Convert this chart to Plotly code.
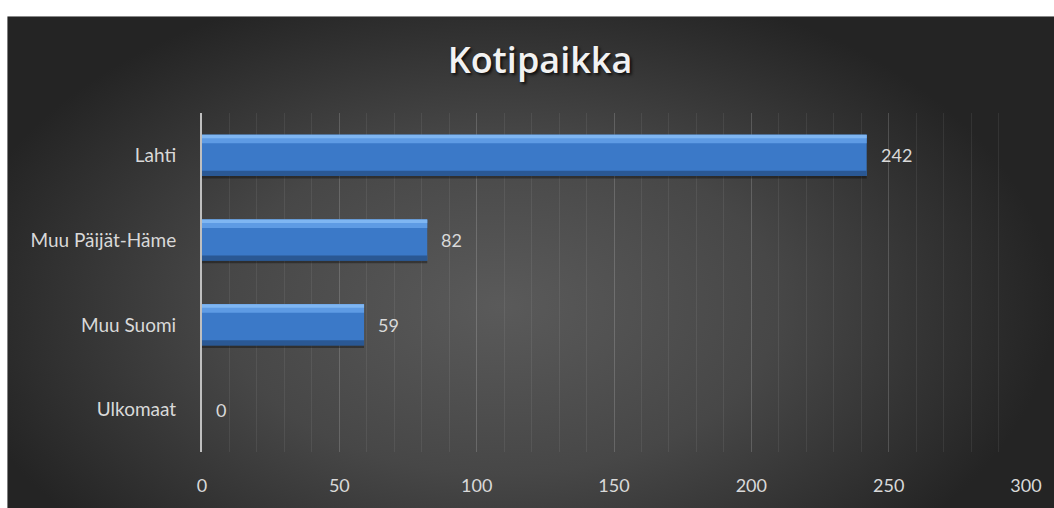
import urllib.parse
import plotly.graph_objects as go

# Data
categories = ["Lahti", "Muu Päijät-Häme", "Muu Suomi", "Ulkomaat"]
values = [242, 82, 59, 0]
value_labels = ["242", "82", "59", "0"]
title_text = "Kotipaikka"

FONT = "Lato, 'Open Sans', sans-serif"
TEXT_COL = "#d9d9d9"

# Plot-area geometry (pixels)
W, H = 1054, 508
L, R, T, B = 202, 27, 113, 48
pw, ph = W - L - R, H - T - B


def px_to_paper_x(px):
    return (px - L) / pw


def px_to_paper_y(py):
    return (H - B - py) / ph


# Radial gradient backdrop for the dark panel
svg = (
    "<svg xmlns='http://www.w3.org/2000/svg' width='1100' height='520' "
    "viewBox='0 0 1100 520' preserveAspectRatio='none'>"
    "<defs><radialGradient id='g' gradientUnits='userSpaceOnUse' cx='500' cy='300' r='560' "
    "gradientTransform='translate(500 300) scale(1 0.62) translate(-500 -300)'>"
    "<stop offset='0' stop-color='#5a5a5a'/>"
    "<stop offset='0.5' stop-color='#474747'/>"
    "<stop offset='1' stop-color='#242424'/>"
    "</radialGradient></defs>"
    "<rect width='1100' height='520' fill='url(#g)'/></svg>"
)
bg_src = "data:image/svg+xml;charset=utf-8," + urllib.parse.quote(svg)

BAR_W = 0.484

fig = go.Figure()

# Main bar body
fig.add_trace(go.Bar(
    y=categories, x=values, orientation="h",
    width=BAR_W, offset=-BAR_W / 2,
    marker=dict(color="#3b79c8", line=dict(width=0)),
    hoverinfo="skip", showlegend=False,
))
# Upper bevel highlight
fig.add_trace(go.Bar(
    y=categories, x=values, orientation="h",
    width=0.10, offset=-BAR_W / 2,
    marker=dict(color="#5e9be4", line=dict(width=0)),
    hoverinfo="skip", showlegend=False,
))
fig.add_trace(go.Bar(
    y=categories, x=values, orientation="h",
    width=0.04, offset=-BAR_W / 2,
    marker=dict(color="#7fb6f2", line=dict(width=0)),
    hoverinfo="skip", showlegend=False,
))
# Lower bevel shade
fig.add_trace(go.Bar(
    y=categories, x=values, orientation="h",
    width=0.06, offset=BAR_W / 2 - 0.06,
    marker=dict(color="#2a5894", line=dict(width=0)),
    hoverinfo="skip", showlegend=False,
))
# Soft drop shadow under each bar
fig.add_trace(go.Bar(
    y=categories, x=values, orientation="h",
    width=0.03, offset=BAR_W / 2,
    marker=dict(color="rgba(0,0,0,0.35)", line=dict(width=0)),
    hoverinfo="skip", showlegend=False,
))

# Value labels just past the bar ends
annotations = [
    dict(x=v, y=c, xref="x", yref="y", text=t, showarrow=False,
         xanchor="left", yanchor="middle", xshift=12,
         font=dict(family=FONT, size=18, color=TEXT_COL))
    for c, v, t in zip(categories, values, value_labels)
]

fig.update_layout(
    width=W, height=H,
    margin=dict(l=L, r=R, t=T, b=B, pad=0),
    paper_bgcolor="white",
    plot_bgcolor="rgba(0,0,0,0)",
    barmode="overlay",
    showlegend=False,
    annotations=annotations,
    title=dict(
        text=title_text,
        x=540 / W, xref="container", xanchor="center",
        y=(H - 60) / H, yref="container", yanchor="middle",
        font=dict(family="'Open Sans', sans-serif", size=36, weight=600, color="#f2f2f2",
                  shadow="2px 2px 3px rgba(0,0,0,0.75)"),
    ),
    images=[dict(
        source=bg_src, xref="paper", yref="paper",
        x=px_to_paper_x(7), y=px_to_paper_y(14),
        sizex=px_to_paper_x(W + 40) - px_to_paper_x(7),
        sizey=px_to_paper_y(14) - px_to_paper_y(H + 20),
        xanchor="left", yanchor="top", sizing="stretch", layer="below",
    )],
    xaxis=dict(
        range=[0, 300], tick0=0, dtick=50,
        showgrid=True, gridcolor="rgba(255,255,255,0.17)", gridwidth=1,
        minor=dict(dtick=10, showgrid=True, gridcolor="rgba(255,255,255,0.07)", gridwidth=1),
        zeroline=False, showline=False, ticks="",
        tickfont=dict(family=FONT, size=18, color=TEXT_COL),
        ticklabelstandoff=21,
        fixedrange=True,
    ),
    yaxis=dict(
        categoryorder="array", categoryarray=categories,
        autorange="reversed",
        showgrid=False, zeroline=False,
        showline=True, linecolor="#bfbfbf", linewidth=2,
        ticks="", ticklabelstandoff=20,
        tickfont=dict(family=FONT, size=19, color=TEXT_COL),
        fixedrange=True,
    ),
)

fig.write_html("out.html", config={"displayModeBar": False})
